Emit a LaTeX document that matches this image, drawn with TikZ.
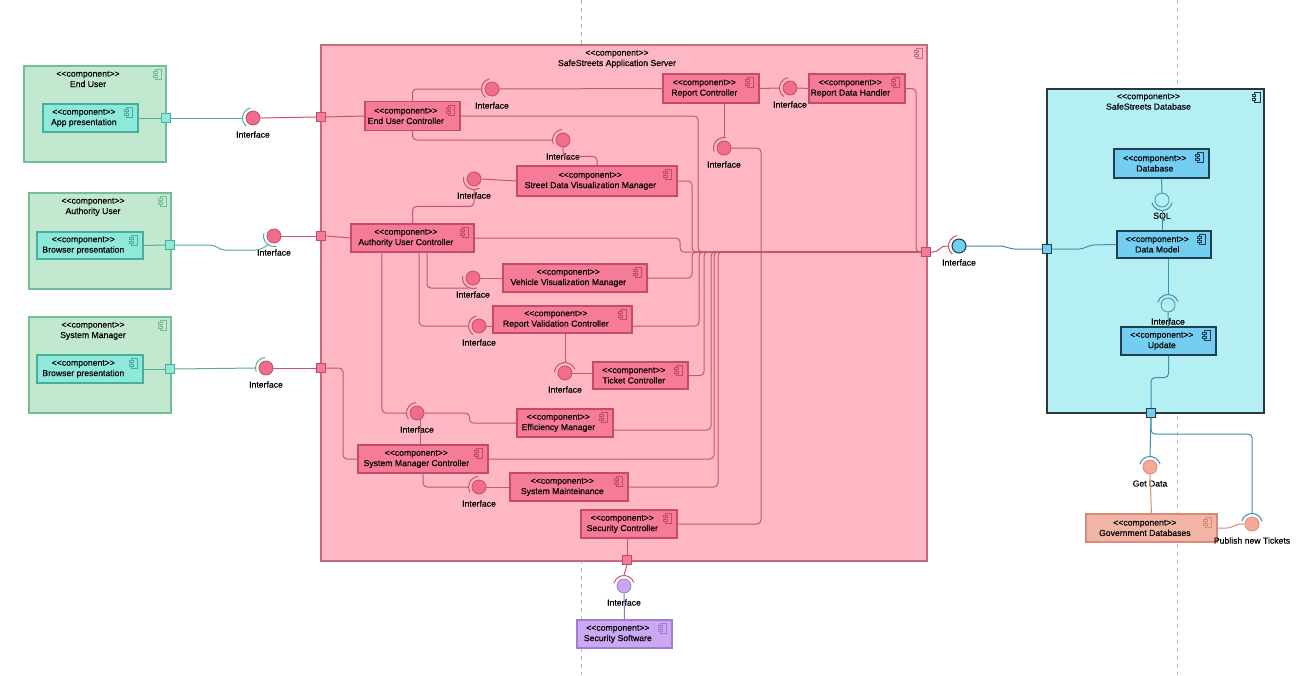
\documentclass[tikz,border=0pt]{standalone}
\usepackage{fontspec}
\setmainfont{Liberation Sans}[FakeBold=0.35]
\usetikzlibrary{calc}

% palette
\definecolor{grFill}{HTML}{C2E9CF}\definecolor{grLine}{HTML}{74BD9B}
\definecolor{aqFill}{HTML}{8FE9DA}\definecolor{aqLine}{HTML}{4AAE9E}
\definecolor{svFill}{HTML}{FFB7C3}\definecolor{svLine}{HTML}{C9687F}
\definecolor{pkFill}{HTML}{F67B96}\definecolor{pkLine}{HTML}{C54B6B}
\definecolor{dbFill}{HTML}{B4EFF3}\definecolor{dbLine}{HTML}{2A383E}
\definecolor{blFill}{HTML}{74CEF1}\definecolor{blLine}{HTML}{1F3E50}
\definecolor{saFill}{HTML}{F2B4A5}\definecolor{saLine}{HTML}{D68B7B}
\definecolor{puFill}{HTML}{CBA8F2}\definecolor{puLine}{HTML}{A07CD2}
\definecolor{tealwire}{HTML}{5AAA9E}
\definecolor{pinkwire}{HTML}{C4566F}
\definecolor{bluewire}{HTML}{3A93AD}
\definecolor{salwire}{HTML}{D68B7B}
\definecolor{purwire}{HTML}{8E74C4}
\definecolor{pkDot}{HTML}{F26C8B}
\definecolor{saDot}{HTML}{F4A898}
\definecolor{puDot}{HTML}{C9A6F0}
\definecolor{dashgray}{HTML}{BDBDBD}

% stereotype text, kept as two plain angle brackets on each side
\newcommand\stereo{<\kern0pt<component>\kern0pt>}

\tikzset{
  box/.style={rectangle, draw=#1Line, fill=#1Fill, line width=0.9pt, inner sep=0},
  ctext/.style={font=\fontsize{6.5}{7.8}\selectfont, align=center, inner sep=0},
  lbl/.style={font=\fontsize{6.5}{7.8}\selectfont, inner sep=0},
  port/.style={rectangle, draw=#1Line, fill=#1Fill, line width=0.7pt, minimum size=6.75pt, inner sep=0},
  dotbase/.style={circle, minimum size=10.5pt, inner sep=0, line width=0.6pt},
  pdot/.style={dotbase, fill=pkDot, draw=pkLine},
  bdot/.style={dotbase, fill=blFill, draw=blLine, line width=0.8pt},
  cdot/.style={dotbase, fill=dbFill, draw=bluewire},
  sdot/.style={dotbase, fill=saDot, draw=saLine},
  udot/.style={dotbase, fill=puDot, draw=puLine},
  sockc/.style={circle, minimum size=15.75pt, inner sep=0},
  wire/.style={line width=0.75pt, rounded corners=3pt},
  tw/.style={wire, draw=tealwire},
  pw/.style={wire, draw=pinkwire},
  bw/.style={wire, draw=bluewire},
  sw/.style={wire, draw=salwire},
  uw/.style={wire, draw=purwire},
}

% small component glyph in a box corner
\newcommand\cicon[3]{%
  \begin{scope}[shift={#1}, color=#2, line width=0.5pt]
    \draw[fill=#3] (-2.5,-5) rectangle (3.5,5);
    \draw[fill=#3] (-4.5,-3) rectangle (-1,-1);
    \draw[fill=#3] (-4.5,1) rectangle (-1,3);
  \end{scope}}

% component box: family, name, x, y, width, height, title
\newcommand\comp[7]{%
  \node[box=#1, minimum width=#5*0.75pt, minimum height=#6*0.75pt] (#2) at (#3,#4) {};
  \node[ctext] (#2-t) at ([xshift=-5pt]#2.center) {\stereo\\#7};
  \cicon{([xshift=-7pt,yshift=-6.75pt]#2.north east)}{#1Line}{#1Fill}}

% container box with the title at the top
\newcommand\cont[8]{%
  \node[box=#1, minimum width=#5*0.75pt, minimum height=#6*0.75pt, #8] (#2) at (#3,#4) {};
  \node[ctext, anchor=north] (#2-t) at ([xshift=-5.25pt,yshift=-4pt]#2.north) {\stereo\\#7};
  \cicon{([xshift=-6.5pt,yshift=-6.75pt]#2.north east)}{#1Line}{#1Fill}}

% provided interface ball with its socket arc and caption
\newcommand\lolli[8]{%
  \node[#4] (#1) at (#2,#3) {};
  \node[sockc] (#1-s) at (#2,#3) {};
  \draw[#5, line width=0.75pt] (#1.center) ++(#6:7.9pt) arc[start angle=#6, end angle=#7, radius=7.9pt];
  \node[lbl] (#1-l) at ([yshift=-12.4pt]#1.center) {#8};}

\begin{document}
\begin{tikzpicture}[x=0.75pt, y=-0.75pt]
\useasboundingbox (0,0) rectangle (1303,675);
\fill[white] (0,0) rectangle (1303,675);

% lifeline guides
\draw[dashgray, dashed, line width=0.6pt] (581,0) -- (581,675);
\draw[dashgray, dashed, line width=0.6pt] (1177,0) -- (1177,675);

% ---------- clients ----------
\cont{gr}{eu}{95}{114}{142}{96}{End User}{}
\comp{aq}{eup}{90.5}{118}{95}{28}{App presentation}
\node[port=aq] (peu) at (166,118) {};

\cont{gr}{au}{100}{241}{142}{96}{Authority User}{}
\comp{aq}{aup}{90}{245.5}{106}{27}{Browser presentation}
\node[port=aq] (pau) at (170,245) {};

\cont{gr}{sm}{100}{365}{142}{96}{System Manager}{}
\comp{aq}{smp}{90}{369}{106}{28}{Browser presentation}
\node[port=aq] (psm) at (170,369) {};

% ---------- application server ----------
\cont{sv}{srv}{624}{303}{606}{516}{SafeStreets Application Server}{}
\node[port=pk] (psl1) at (321,117) {};
\node[port=pk] (psl2) at (321,236) {};
\node[port=pk] (psl3) at (321,368) {};
\node[port=pk] (psr) at (926,252) {};
\node[port=pk] (psb) at (627,560) {};

\comp{pk}{euc}{412.5}{116}{95}{29}{End User Controller}
\comp{pk}{rc}{711}{88.5}{96}{29}{Report Controller}
\comp{pk}{rdh}{857}{88.5}{96}{29}{Report Data Handler}
\comp{pk}{sdvm}{597}{181}{160}{30}{Street Data Visualization Manager}
\comp{pk}{auc}{412.5}{238}{123}{28}{Authority User Controller}
\comp{pk}{vvm}{575}{278}{144}{28}{Vehicle Visualization Manager}
\comp{pk}{rvc}{562.5}{319.5}{139}{27}{Report Validation Controller}
\comp{pk}{tc}{640.5}{375.5}{95}{27}{Ticket Controller}
\comp{pk}{em}{565}{423}{96}{28}{Efficiency Manager}
\comp{pk}{smc}{423}{459}{130}{28}{System Manager Controller}
\comp{pk}{smt}{569}{487}{118}{28}{System Mainteinance}
\comp{pk}{sc}{629}{524}{96}{28}{Security Controller}
\comp{pu}{ss}{624.5}{634}{95}{28}{Security Software}

% ---------- database ----------
\cont{db}{dbc}{1155.5}{251}{217}{324}{SafeStreets Database}{line width=1.5pt}
\comp{bl}{dbi}{1161.5}{163.5}{95}{29}{Database}
\comp{bl}{dm}{1164}{244.5}{94}{27}{Data Model}
\comp{bl}{upd}{1168.5}{341}{95}{28}{Update}
\node[port=bl] (pdb) at (1047,249) {};
\node[port=bl] (pdbb) at (1151,413) {};
\comp{sa}{gov}{1151.5}{528}{131}{28}{Government Databases}

% ---------- interfaces ----------
\lolli{i1}{253}{118}{pdot}{tealwire}{105}{230}{Interface}
\lolli{i2}{274}{236}{pdot}{tealwire}{165}{285}{Interface}
\lolli{i3}{266}{368}{pdot}{tealwire}{95}{200}{Interface}
\lolli{ia}{492}{89}{pdot}{pinkwire}{105}{230}{Interface}
\lolli{ib}{563}{140}{pdot}{pinkwire}{95}{200}{Interface}
\lolli{ic}{474}{179}{pdot}{pinkwire}{170}{300}{Interface}
\lolli{id}{473}{278}{pdot}{pinkwire}{170}{290}{Interface}
\lolli{ie}{479}{326}{pdot}{pinkwire}{105}{235}{Interface}
\lolli{if}{565}{373}{pdot}{pinkwire}{20}{175}{Interface}
\lolli{ig}{417}{413}{pdot}{pinkwire}{95}{215}{Interface}
\lolli{ih}{479}{487}{pdot}{pinkwire}{95}{210}{Interface}
\lolli{irc}{724}{148}{pdot}{pinkwire}{80}{200}{Interface}
\lolli{irr}{790}{88}{pdot}{pinkwire}{100}{235}{Interface}
\lolli{isec}{624}{586}{udot}{pinkwire}{20}{165}{Interface}
\lolli{idb}{959}{246}{bdot}{pinkwire}{100}{230}{Interface}
\lolli{sql}{1162}{200}{cdot}{bluewire}{195}{345}{SQL}
\lolli{idm}{1168}{305}{cdot}{bluewire}{20}{165}{Interface}
\lolli{igd}{1150}{467}{sdot}{bluewire}{15}{165}{Get Data}
\lolli{ipub}{1252}{524}{sdot}{bluewire}{15}{165}{Publish new Tickets}

% ---------- client links ----------
\draw[tw] (eup.east) -- (peu.west);
\draw[tw] (peu.east) -- (i1-s.west);
\draw[pw] (i1.east) -- (psl1.west);
\draw[tw] (aup.east) -- (pau.west);
\draw[tw] (pau.east) -- (214,245) -- (221,250) -- (260,250) -- (i2-s.235);
\draw[pw] (i2.east) -- (psl2.west);
\draw[tw] (smp.east) -- (psm.west);
\draw[tw] (psm.east) -- (i3-s.west);
\draw[pw] (i3.east) -- (psl3.west);

% ---------- server internals ----------
\draw[pw] (psl1.east) -- (euc.west);
\draw[pw] (psl2.east) -- (auc.west);
\draw[pw] (psl3.east) -| (343,459) -- (smc.west);
\draw[pw] (euc.north) |- (ia-s.west);
\draw[pw] (ia.east) -- (rc.west);
\draw[pw] (euc.south) |- (ib-s.west);
\draw[pw] (ib.south) -- ++(0,9) -| (sdvm.north);
\draw[pw] (sdvm.west) -- (ic.east);
\draw[pw] (auc.north) -- ++(0,-17) -| (ic-s.south);
\draw[pw] (vvm.west) -- (id.east);
\draw[pw] ([xshift=10.9pt]auc.south) |- (id-s.250);
\draw[pw] (ie.east) -- (ie.east -| rvc.west);
\draw[pw] ([xshift=5pt]auc.south) |- (ie-s.west);
\draw[pw] (if-s.north |- rvc.south) -- (if-s.north);
\draw[pw] (if.east) -- (if.east -| tc.west);
\draw[pw] ([xshift=-22.9pt]auc.south) |- (ig-s.west);
\draw[pw] (ig.east) -- ++(45,0) |- (em.west);
\draw[pw] (ig.-60) -- (ig.-60 |- smc.north);
\draw[pw] (smc.south) |- (ih-s.west);
\draw[pw] (ih.east) -- (smt.west);
\draw[pw] (rc.east) -- (irr-s.west);
\draw[pw] (irr.east) -- (rdh.west);
\draw[pw] (irc-s.north |- rc.south) -- (irc-s.north);
\draw[pw] (irc.east) -| (761,524) -- (sc.east);
\draw[pw] (psb.north |- sc.south) -- (psb.north);
\draw[pw] (psb.south) -- (isec-s.north);
\draw[uw] (isec.south) -- (ss.north);

% bundle to the database port
\draw[pw] (euc.east) -| (698,252) -- (psr.west);
\draw[pw] (sdvm.east) -| (692,252) -- (psr.west);
\draw[pw] (vvm.east) -| (692,252) -- (psr.west);
\draw[pw] (auc.east) -| (680,252) -- (psr.west);
\draw[pw] ([yshift=-4.9pt]rvc.east) -| (699,252) -- (psr.west);
\draw[pw] (tc.east) -| (704,252) -- (psr.west);
\draw[pw] ([yshift=-5.25pt]em.east) -| (711,252) -- (psr.west);
\draw[pw] (smc.east) -| (714,252) -- (psr.west);
\draw[pw] (smt.east) -| (718,252) -- (psr.west);
\draw[pw] (rdh.east) -| (916,252) -- (psr.west);

% ---------- server to database ----------
\draw[pw] (psr.east) -- (937,252) -- (942,246) -- (idb-s.west);
\draw[bw] (idb.east) -- (1004,246) -- (1011,249) -- (pdb.west);
\draw[bw] (pdb.east) -- (1083,249) -- (1090,245) -- (dm.west);
\draw[bw] (dbi.south) -- (sql.north);
\draw[bw] (sql-s.south |- dm.north) -- (sql-s.south);
\draw[bw] (idm-s.north |- dm.south) -- (idm-s.north);
\draw[bw] (idm.south) -- (upd.north);
\draw[bw] (upd.south) -- ++(0,22) -| (pdbb.north);
\draw[bw] (pdbb.south) -- (igd-s.north);
\draw[bw] (pdbb.south) |- (1252,434) -- (ipub-s.north);
\draw[sw] (igd.south) -- (gov.north);
\draw[sw] (gov.east) -- (1231,528) -- (1237,524) -- (ipub.west);
\end{tikzpicture}
\end{document}
